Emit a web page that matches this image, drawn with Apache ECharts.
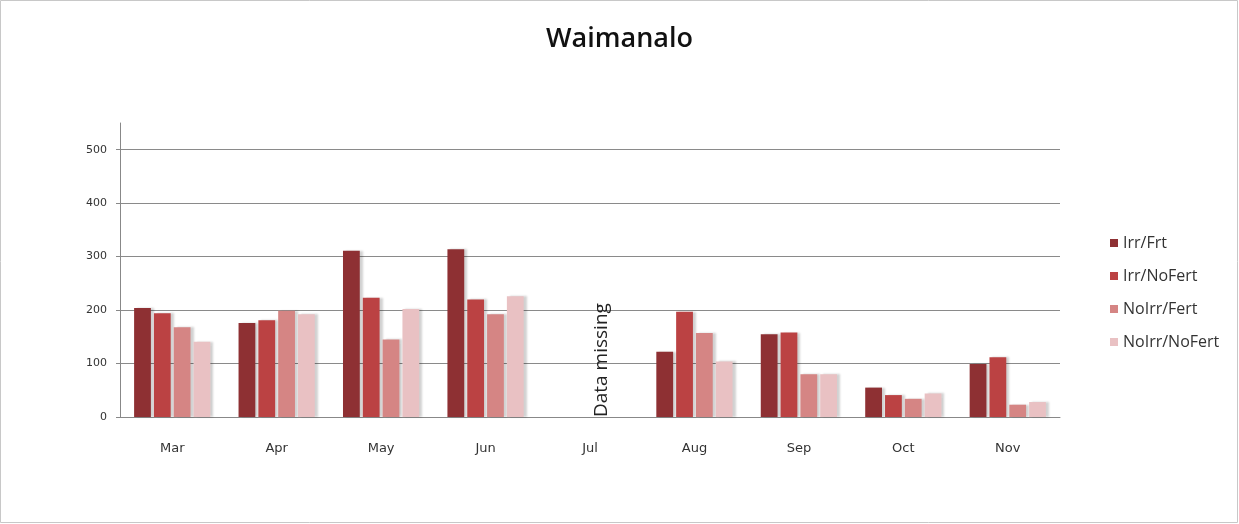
<!DOCTYPE html>
<html>
<head>
<meta charset="utf-8">
<script src="https://cdn.jsdelivr.net/npm/echarts@6/dist/echarts.min.js"></script>
<style>
  html, body { margin: 0; padding: 0; background: #fff; }
  #chart { width: 1239px; height: 524px; }
</style>
</head>
<body>
<div id="chart"></div>
<script>
// Monthly values per treatment at Waimanalo (Jul not recorded)
const months = ['Mar', 'Apr', 'May', 'Jun', 'Jul', 'Aug', 'Sep', 'Oct', 'Nov'];
const irrFrt      = [204, 176, 311, 314, null, 122, 155, 55, 99];
const irrNoFert   = [194, 181, 223, 220, null, 197, 158, 41, 112];
const noIrrFert   = [168, 199, 145, 192, null, 157, 80, 34, 23];
const noIrrNoFert = [141, 192, 202, 226, null, 104, 80, 44, 28];
const seriesNames = ['Irr/Frt', 'Irr/NoFert', 'NoIrr/Fert', 'NoIrr/NoFert'];
const seriesColors = ['#8e3033', '#bb4243', '#d58584', '#e9c1c3'];
const missingMonth = 'Jul';
const missingText = 'Data missing';

const seriesData = [irrFrt, irrNoFert, noIrrFert, noIrrNoFert];
const font = '"Open Sans", "Liberation Sans", sans-serif';
const axisFont = '"DejaVu Sans", Verdana, sans-serif';

const chart = echarts.init(document.getElementById('chart'), null, { renderer: 'canvas' });

const option = {
  backgroundColor: '#fff',
  animation: false,
  title: {
    text: 'Waimanalo',
    left: 'center',
    top: 21,
    textStyle: { fontFamily: font, fontSize: 27, fontWeight: 600, color: '#111' }
  },
  legend: {
    orient: 'vertical',
    left: 1105,
    top: 230,
    itemWidth: 8,
    itemHeight: 8,
    itemGap: 17,
    icon: 'rect',
    textStyle: { fontFamily: font, fontSize: 16, color: '#333' },
    data: seriesNames
  },
  grid: { left: 120, right: 179, top: 123, bottom: 107, containLabel: false },
  xAxis: {
    type: 'category',
    data: months,
    axisLine: { show: true, lineStyle: { color: '#888', width: 1 } },
    axisTick: { show: false },
    axisLabel: { margin: 25, fontFamily: axisFont, fontSize: 13, color: '#333' }
  },
  yAxis: {
    type: 'value',
    min: 0,
    max: 550,
    interval: 100,
    axisLine: { show: true, lineStyle: { color: '#888', width: 1 } },
    axisTick: { show: true, length: 4, lineStyle: { color: '#888' } },
    axisLabel: { margin: 13, fontFamily: axisFont, fontSize: 11, color: '#333', showMaxLabel: false },
    splitLine: { show: true, showMaxLine: false, lineStyle: { color: '#8a8a8a', width: 1 } }
  },
  series: seriesNames.map((name, i) => ({
    name: name,
    type: 'bar',
    data: seriesData[i],
    barGap: '18%',
    barCategoryGap: '27%',
    itemStyle: {
      color: seriesColors[i],
      shadowColor: 'rgba(0,0,0,0.18)',
      shadowOffsetX: 3,
      shadowOffsetY: 0,
      shadowBlur: 2
    }
  }))
};

chart.setOption(option);

// Rotated note placed on the category that has no data
const p = chart.convertToPixel({ xAxisIndex: 0, yAxisIndex: 0 }, [missingMonth, 0]);
chart.setOption({
  graphic: [
    {
      type: 'text',
      x: p[0] + 12,
      y: p[1],
      rotation: Math.PI / 2,
      style: {
        text: missingText,
        fontFamily: font,
        fontSize: 19,
        fill: '#222',
        align: 'left',
        verticalAlign: 'middle'
      }
    },
    {
      type: 'rect',
      shape: { x: 0.5, y: 0.5, width: 1237, height: 522 },
      style: { fill: 'none', stroke: '#c8c8c8', lineWidth: 1 },
      silent: true
    }
  ]
});
</script>
</body>
</html>
